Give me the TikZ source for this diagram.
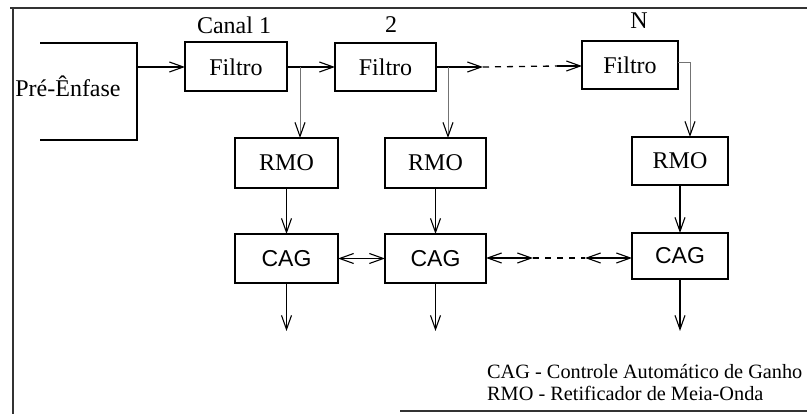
\documentclass[tikz,border=0pt]{standalone}
\usepackage{fontspec}
\setmainfont{Liberation Serif}
\newfontfamily\boxsans{Liberation Sans}
\usetikzlibrary{arrows.meta}
\tikzset{barb/.tip={Straight Barb[length=14pt,width=10pt,line width=1.1pt]}}

\begin{document}
\begin{tikzpicture}[x=1pt,y=-1pt,
  lbl/.style={inner sep=0pt, font=\rmfamily\fontsize{24}{27}\selectfont},
  blk/.style={draw, line width=2pt, inner sep=0pt, outer sep=0pt,
              font=\rmfamily\fontsize{24}{27}\selectfont},
  cagbox/.style={blk, font=\boxsans\fontsize{23}{26}\selectfont},
  arr/.style={line width=1.3pt, -{barb}},
  darr/.style={line width=1.3pt, {barb}-{barb}},
  branch/.style={line width=1pt, draw=black!55, -{barb[color=black]}},
  dots/.style={line width=1.3pt, dash pattern=on 6pt off 6pt},
  frame/.style={line width=1.4pt, draw=black!80},
  legend/.style={anchor=base west, inner sep=0pt, font=\rmfamily\fontsize{20.3}{23}\selectfont}]

\useasboundingbox (0,0) rectangle (807,414);

% outer frame (open on the right)
\draw[frame] (10,8) -- (807,8);
\draw[frame] (13,8) -- (13,414);
\draw[frame] (400,411) -- (807,411);

% pre-emphasis stage, drawn as an open bracket
\draw[line width=2pt] (40,43) -- (137,43) -- (137,140) -- (40,140);
\node[lbl] (pre) at (68,86) {Pré-Ênfase};
\coordinate (preout) at (137,67);

% channel captions
\node[lbl] (c1) at (234,25) {Canal 1};
\node[lbl] (c2) at (391,25) {2};
\node[lbl] (cn) at (639,21) {N};

% filter bank
\node[blk, minimum width=102pt, minimum height=49pt] (f1) at (236,67) {Filtro};
\node[blk, minimum width=101pt, minimum height=48pt] (f2) at (385.5,67) {Filtro};
\node[blk, minimum width=96pt,  minimum height=48pt] (fn) at (630,65) {Filtro};

% half-wave rectifiers
\node[blk, minimum width=103pt, minimum height=50pt] (r1) at (286.5,163) {RMO};
\node[blk, minimum width=101pt, minimum height=50pt] (r2) at (435.5,163) {RMO};
\node[blk, minimum width=96pt,  minimum height=48pt] (rn) at (680,161) {RMO};

% automatic gain control
\node[cagbox, minimum width=103pt, minimum height=49pt] (g1) at (286.5,258.5) {CAG};
\node[cagbox, minimum width=101pt, minimum height=49pt] (g2) at (435.5,258.5) {CAG};
\node[cagbox, minimum width=96pt,  minimum height=46pt] (gn) at (680,256) {CAG};

% signal path along the filters
\draw[arr] (preout) -- (preout -| f1.west);
\draw[arr] (f1.east) -- (f2.west);
\coordinate (d1) at (483,67);
\coordinate (d2) at (557,66);
\draw[arr] (f2.east) -- (d1);
\draw[dots] (d1) -- (d2);
\draw[arr] (d2) -- (d2 -| fn.west);

% taps feeding the rectifiers
\coordinate (b1) at (300,67);
\coordinate (b2) at (448,67);
\coordinate (bn) at (678,63);
\coordinate (bk) at (690,63);
\draw[branch] (b1) -- (b1 |- r1.north);
\draw[branch] (b2) -- (b2 |- r2.north);
\draw[branch] (bn) -- (bk) -- (bk |- rn.north);

% rectifier to gain control
\draw[arr] (r1.south) -- (g1.north);
\draw[arr] (r2.south) -- (g2.north);
\draw[arr] (rn.south) -- (gn.north);

% gain control outputs
\coordinate (o1) at (286.5,331);
\coordinate (o2) at (435.5,331);
\coordinate (on) at (680,331);
\draw[arr] (g1.south) -- (o1);
\draw[arr] (g2.south) -- (o2);
\draw[arr] (gn.south) -- (on);

% links between the gain controls
\draw[darr] (g1.east) -- (g2.west);
\coordinate (e1) at (533,258);
\coordinate (e2) at (585,258);
\draw[darr] (g2.east |- e1) -- (e1);
\draw[dots] (e1) -- (e2);
\draw[darr] (e2) -- (e2 -| gn.west);

% legend
\node[legend] (l1) at (487,379) {CAG - Controle Automático de Ganho};
\node[legend] (l2) at (487,401) {RMO - Retificador de Meia-Onda};
\end{tikzpicture}
\end{document}
